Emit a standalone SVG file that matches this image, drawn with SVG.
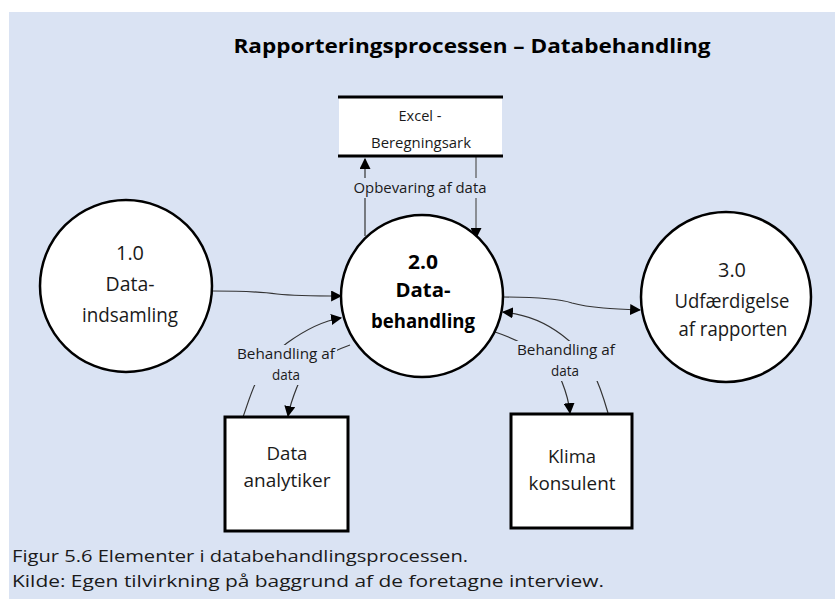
<svg xmlns="http://www.w3.org/2000/svg" width="835" height="599" viewBox="0 0 835 599">
  <style>
    .bg { fill: #dae3f3; }
    .proc { fill: #ffffff; stroke: #000000; stroke-width: 2.5; }
    .ent { fill: #ffffff; stroke: #000000; stroke-width: 3; }
    .store-line { stroke: #000000; stroke-width: 3; }
    .flow { fill: none; stroke: #333333; stroke-width: 1.2; }
    .t { font-family: "Open Sans", "Noto Sans", "Liberation Sans", sans-serif; fill: #1a1a1a; text-anchor: middle; }
    .title { font-size: 20px; font-weight: bold; fill: #000; }
    .node { font-size: 20px; }
    .bold { font-weight: bold; fill: #000; }
    .small { font-size: 14px; }
    .ent-t { font-size: 18px; }
    .store-t { font-size: 15px; }
    .cap { font-family: "Open Sans", "Noto Sans", "Liberation Sans", sans-serif; font-size: 16px; fill: #1a1a1a; }
  </style>
  <defs>
    <marker id="arrow" viewBox="0 0 10 10" refX="9" refY="5" markerWidth="11" markerHeight="11" markerUnits="userSpaceOnUse" orient="auto">
      <path d="M0,0 L10,5 L0,10 z" fill="#000"/>
    </marker>
  </defs>

  <!-- page background -->
  <rect class="bg" x="9" y="12" width="826" height="587"/>

  <text class="t title" x="472" y="53" textLength="477" lengthAdjust="spacingAndGlyphs">Rapporteringsprocessen – Databehandling</text>

  <!-- data flows -->
  <g id="connectors">
    <!-- 1.0 -> 2.0 -->
    <path class="flow" d="M213,291 C245,291 262,292 277,294 C295,296 320,296 341,296" marker-end="url(#arrow)"/>
    <!-- 2.0 -> 3.0 -->
    <path class="flow" d="M503,297 C540,297 560,299 572,303 C590,308 615,309 640,310" marker-end="url(#arrow)"/>
    <!-- 2.0 <-> Excel -->
    <path class="flow" d="M365,236 L365,159" marker-end="url(#arrow)"/>
    <path class="flow" d="M476,157 L476,238" marker-end="url(#arrow)" style="stroke:#555"/>
    <!-- Data analytiker <-> 2.0 -->
    <path class="flow" d="M243,417 C252,392 258,364 287,343 C305,330 322,321 341,318" marker-end="url(#arrow)"/>
    <path class="flow" d="M350,345 C330,352 305,365 297,387 C293,397 290,405 288,416" marker-end="url(#arrow)"/>
    <!-- Klima konsulent <-> 2.0 -->
    <path class="flow" d="M608,413 C600,385 590,355 562,335 C545,322 525,314 503,312" marker-end="url(#arrow)"/>
    <path class="flow" d="M495,332 C525,342 555,360 562,382 C566,392 569,402 570,413" marker-end="url(#arrow)"/>
    <!-- flow labels -->
    <rect class="bg" x="352" y="178" width="138" height="20"/>
    <text class="t small" x="420" y="193" textLength="133" lengthAdjust="spacingAndGlyphs">Opbevaring af data</text>
    <rect class="bg" x="235" y="345" width="102" height="40"/>
    <text class="t small" x="286" y="359" textLength="98" lengthAdjust="spacingAndGlyphs">Behandling af</text>
    <text class="t small" x="286" y="380" textLength="28" lengthAdjust="spacingAndGlyphs">data</text>
    <rect class="bg" x="515" y="341" width="102" height="40"/>
    <text class="t small" x="566" y="355" textLength="98" lengthAdjust="spacingAndGlyphs">Behandling af</text>
    <text class="t small" x="565" y="376" textLength="28" lengthAdjust="spacingAndGlyphs">data</text>
  </g>

  <!-- data store -->
  <g id="excel">
    <rect x="339" y="97" width="163" height="59" fill="#ffffff"/>
    <line class="store-line" x1="338" y1="97" x2="503" y2="97"/>
    <line class="store-line" x1="338" y1="156" x2="503" y2="156"/>
    <text class="t store-t" x="420" y="121" textLength="43" lengthAdjust="spacingAndGlyphs">Excel -</text>
    <text class="t store-t" x="421" y="148" textLength="100" lengthAdjust="spacingAndGlyphs">Beregningsark</text>
  </g>

  <!-- processes -->
  <g id="p1">
    <circle class="proc" cx="126" cy="286" r="86"/>
    <text class="t node" x="130" y="260" textLength="28" lengthAdjust="spacingAndGlyphs">1.0</text>
    <text class="t node" x="130" y="291" textLength="49" lengthAdjust="spacingAndGlyphs">Data-</text>
    <text class="t node" x="130" y="322" textLength="96" lengthAdjust="spacingAndGlyphs">indsamling</text>
  </g>
  <g id="p2">
    <circle class="proc" cx="422" cy="296" r="81"/>
    <text class="t node bold" x="423" y="269" textLength="30" lengthAdjust="spacingAndGlyphs">2.0</text>
    <text class="t node bold" x="423" y="297" textLength="55" lengthAdjust="spacingAndGlyphs">Data-</text>
    <text class="t node bold" x="423" y="328" textLength="104" lengthAdjust="spacingAndGlyphs">behandling</text>
  </g>
  <g id="p3">
    <circle class="proc" cx="726" cy="297" r="85"/>
    <text class="t node" x="732" y="277" textLength="28" lengthAdjust="spacingAndGlyphs">3.0</text>
    <text class="t node" x="732" y="308" textLength="115" lengthAdjust="spacingAndGlyphs">Udfærdigelse</text>
    <text class="t node" x="733" y="336" textLength="109" lengthAdjust="spacingAndGlyphs">af rapporten</text>
  </g>

  <!-- external entities -->
  <g id="analytiker">
    <rect class="ent" x="225" y="417" width="123" height="114"/>
    <text class="t ent-t" x="287" y="460" textLength="41" lengthAdjust="spacingAndGlyphs">Data</text>
    <text class="t ent-t" x="287" y="487" textLength="87" lengthAdjust="spacingAndGlyphs">analytiker</text>
  </g>
  <g id="konsulent">
    <rect class="ent" x="511" y="414" width="121" height="114"/>
    <text class="t ent-t" x="572" y="463" textLength="48" lengthAdjust="spacingAndGlyphs">Klima</text>
    <text class="t ent-t" x="572" y="490" textLength="87" lengthAdjust="spacingAndGlyphs">konsulent</text>
  </g>

  <!-- caption -->
  <text class="cap" x="12" y="562" textLength="456" lengthAdjust="spacingAndGlyphs">Figur 5.6 Elementer i databehandlingsprocessen.</text>
  <text class="cap" x="12" y="587" textLength="592" lengthAdjust="spacingAndGlyphs">Kilde: Egen tilvirkning på baggrund af de foretagne interview.</text>
</svg>
